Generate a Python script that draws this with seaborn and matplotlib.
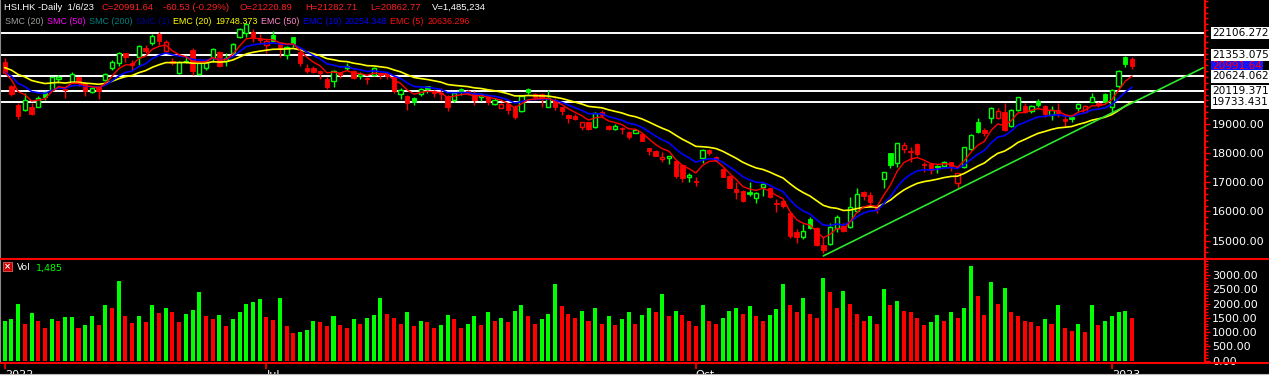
import numpy as np
import pandas as pd
import matplotlib
matplotlib.use("Agg")
import matplotlib.pyplot as plt
import seaborn as sns
from matplotlib.patches import Rectangle
from matplotlib.lines import Line2D
from matplotlib.ticker import MultipleLocator

sns.set_theme(style="dark")
plt.rcParams['font.family'] = ['DejaVu Sans']

# ---------------- data (HSI daily, May 2022 - Jan 6 2023) ----------------
opens = [21123, 20291, 19641, 19470, 19561, 19584, 20097, 20154, 20542, 20190,
         20439, 20587, 20382, 20097, 20291, 20496, 20918, 21066, 21408, 21089,
         21271, 21602, 21773, 22081, 21499, 21157, 20747, 21120, 21522, 20690,
         20918, 21237, 21442, 21157, 21431, 21955, 22092, 22149, 21900, 21693,
         22035, 21750, 21351, 21955, 21454, 20918, 20900, 20815, 20530, 20473,
         20747, 20895, 20804, 20633, 20576, 20667, 20724, 20724, 20587, 20017,
         19949, 19869, 20006, 20280, 20120, 20063, 19949, 19812, 20177, 20120,
         20017, 19903, 19949, 19664, 19550, 19664, 19584, 19436, 20188, 20017,
         20030, 19584, 19812, 19561, 19299, 19265, 18900, 19060, 18877, 19402,
         18923, 18832, 18860, 18718, 18695, 18649, 18159, 18068, 17783, 17840,
         17737, 17589, 17167, 17053, 17817, 18102, 17863, 17452, 17213, 16768,
         16700, 16677, 16460, 16848, 16791, 16301, 16358, 15936, 15309, 15115,
         15731, 15423, 14853, 14876, 15423, 15503, 15457, 16027, 16677, 16563,
         16187, 17122, 17988, 17646, 18148, 18060, 18307, 17623, 17623, 17520,
         17555, 17680, 16985, 17532, 18125, 19060, 18786, 19208, 19208, 19390,
         18934, 19470, 19618, 19447, 19778, 19607, 19299, 19470, 19174, 19219,
         19527, 19413, 19755, 19698, 20017, 19561, 20302, 21271, 21220.89]
highs = [21237, 20320, 19721, 20061, 19698, 19949, 20130, 20610, 20667, 20200,
         20758, 20610, 20439, 20291, 20300, 20730, 21180, 21440, 21430, 21180,
         21693, 21693, 22058, 22150, 21864, 21260, 21150, 21350, 21579, 21100,
         21150, 21580, 21490, 21408, 21750, 22260, 22434, 22229, 22069, 21887,
         22172, 21807, 21660, 21980, 21520, 21030, 20986, 20838, 20610, 20838,
         20780, 21089, 20838, 20780, 20600, 20950, 20780, 20750, 20633, 20211,
         19970, 19910, 20234, 20300, 20154, 20211, 19970, 20085, 20211, 20140,
         20120, 20063, 19970, 19869, 19698, 19698, 19641, 19983, 20211, 20040,
         20060, 20154, 19880, 19580, 19320, 19322, 19071, 19071, 19413, 19470,
         18957, 18980, 18900, 18752, 18820, 18672, 18182, 18102, 18045, 17890,
         17760, 17623, 17304, 17190, 18136, 18125, 17886, 17475, 17247, 17019,
         16734, 17019, 16677, 16962, 16848, 16415, 16392, 15993, 15389, 15571,
         15800, 15457, 15138, 15594, 15879, 15594, 16483, 16791, 16700, 16677,
         16221, 17361, 18011, 18353, 18364, 18216, 18353, 17703, 17669, 17589,
         17726, 17703, 17327, 18216, 18638, 19185, 18843, 19561, 19527, 19721,
         19493, 19926, 19698, 19641, 19835, 19641, 19607, 19698, 19265, 19288,
         19721, 19641, 20063, 19755, 20063, 20188, 20838, 21328, 21282.71]
lows = [20724, 19960, 19162, 19440, 19299, 19560, 19820, 20130, 20382, 19890,
        20382, 20291, 19960, 20063, 19846, 20470, 20838, 20986, 21123, 20838,
        20999, 21408, 21693, 21693, 21408, 21000, 20690, 21080, 20667, 20650,
        20838, 21123, 20950, 20986, 21408, 21920, 21955, 21807, 21750, 21431,
        21807, 21271, 21203, 21636, 20986, 20750, 20724, 20542, 20188, 20268,
        20553, 20838, 20519, 20519, 20348, 20633, 20519, 20519, 20040, 19846,
        19470, 19641, 19960, 20063, 19900, 19812, 19436, 19733, 19994, 19994,
        19641, 19778, 19641, 19641, 19527, 19333, 19162, 19413, 20017, 19812,
        19580, 19561, 19480, 19299, 19037, 19128, 18786, 18786, 18855, 19242,
        18786, 18786, 18650, 18478, 18672, 18410, 17931, 17897, 17703, 17623,
        17156, 17019, 17019, 16882, 17669, 17931, 17726, 17167, 16791, 16426,
        16335, 16540, 16301, 16540, 16472, 15993, 16130, 15081, 14933, 15047,
        15389, 14819, 14591, 14853, 15286, 15309, 15423, 15993, 16392, 16164,
        15936, 16814, 17498, 17532, 18011, 17703, 17897, 17361, 17270, 17304,
        17520, 17395, 16791, 17498, 18102, 18672, 18581, 19014, 19151, 18763,
        18900, 19436, 19356, 19379, 19584, 19242, 19111, 19242, 18900, 19071,
        19447, 19356, 19733, 19584, 19698, 19413, 20211, 20952, 20862.77]
closes = [20747, 20017, 19276, 19801, 19333, 19869, 19926, 20587, 20610, 20160,
          20701, 20382, 20120, 20211, 20131, 20691, 21112, 21408, 21271, 21020,
          21659, 21488, 22012, 21841, 21784, 21089, 21100, 21150, 20815, 21089,
          21123, 21545, 20986, 21260, 21727, 22229, 22400, 21978, 21860, 21830,
          21841, 21579, 21636, 21727, 21089, 20815, 20760, 20724, 20268, 20815,
          20667, 20986, 20553, 20701, 20519, 20895, 20667, 20633, 20120, 20143,
          19698, 19733, 20188, 20195, 20040, 20017, 19561, 20040, 20097, 20063,
          19812, 19994, 19755, 19812, 19675, 19470, 19242, 19949, 20097, 19903,
          19880, 19892, 19561, 19447, 19208, 19151, 19048, 18820, 19356, 19299,
          18820, 18923, 18830, 18535, 18786, 18421, 18079, 17908, 17863, 17880,
          17213, 17156, 17247, 17020, 18102, 17988, 17760, 17190, 16814, 16677,
          16369, 16586, 16631, 16939, 16506, 16255, 16198, 15161, 15140, 15343,
          15423, 14853, 14682, 15457, 15822, 15343, 16164, 16597, 16529, 16335,
          16073, 17338, 17589, 18330, 18262, 18020, 17954, 17578, 17418, 17540,
          17680, 17566, 17304, 18193, 18615, 18729, 18672, 19527, 19436, 18786,
          19470, 19903, 19413, 19607, 19641, 19333, 19470, 19356, 19083, 19151,
          19675, 19607, 19903, 19641, 19755, 20154, 20804, 21052.17, 20991.64]
first_prev_close = 20870
# volume in thousands
volumes = [1399, 1469, 1994, 1294, 1679, 1399, 1154, 1469, 1399, 1539,
           1545, 1154, 1259, 1574, 1259, 1959, 1854, 2798, 1574, 1329,
           1574, 1364, 1959, 1679, 1854, 1714, 1364, 1644, 1784, 2414,
           1574, 1469, 1609, 1224, 1469, 1714, 1994, 2064, 2169, 1539,
           1434, 2204, 1224, 979, 1003, 1084, 1399,
           1350, 1200, 1550, 1250, 1150, 1450, 1300, 1500, 1600, 2200,
           1650, 1500, 1300, 1700, 1200, 1400, 1350, 1150, 1250, 1600,
           1450, 1150, 1300, 1550, 1250, 1700, 1400, 1500, 1350, 1750,
           1950, 1550, 1300, 1450, 1650, 2700, 1900, 1650, 1500, 1750,
           1400, 1850, 1300, 1550, 1250, 1450, 1700, 1300, 1600, 1850,
           1700, 2350, 1550, 1750, 1600, 1400, 1200, 1950, 1400, 1300,
           1500, 1750, 1850, 1650, 1900, 1550, 1400, 1600, 1800, 2700,
           1950, 1700, 2200, 1650, 1500, 2900, 2400, 1850, 2450, 2000,
           1650, 1400, 1550, 1300, 2500, 1950, 2100, 1750, 1700, 1500,
           1250, 1350, 1600, 1400, 1700, 1500, 1850, 3300, 2250, 1600,
           2750, 2000, 2550, 1700, 1550, 1400, 1350, 1200, 1450, 1300,
           1950, 1150, 1050, 1300, 1000, 1950, 1250, 1400, 1550, 1700,
           1750, 1485.234]
levels = [22106.272, 21353.075, 20624.062, 20119.371, 19733.431]
ema_seeds = {5: 20750, 10: 20760, 20: 20920}
ema_labels = {20: 19748.373, 10: 20254.348, 5: 20636.296}
trend_x = [122, 178.6]
trend_y = [14480, 20916]
date_idx = [0, 39, 103, 165]
date_labels = ['2022', 'Jul', 'Oct', '2023']
chart_date = '1/6/23'
price_ticks = [15000, 16000, 17000, 18000, 19000]
vol_ticks = [0, 500, 1000, 1500, 2000, 2500, 3000]

# ---------------- derived ----------------
o = np.array(opens, float); h = np.array(highs, float)
l = np.array(lows, float); c = np.array(closes, float)
v = np.array(volumes, float)
n = len(c)
x = np.arange(n)
prev = np.concatenate([[first_prev_close], c[:-1]])
GREEN, RED = '#00ff00', '#ff0000'
cols = np.where(c >= prev, GREEN, RED)
vprev = np.concatenate([[0], v[:-1]])
vcols = np.where(v >= vprev, GREEN, RED)

def ema(vals, span, seed):
    a = 2.0 / (span + 1)
    out = [seed]
    for val in vals[1:]:
        out.append(a * val + (1 - a) * out[-1])
    return np.array(out)

df = pd.DataFrame({'x': x,
                   'ema5': ema(c, 5, ema_seeds[5]),
                   'ema10': ema(c, 10, ema_seeds[10]),
                   'ema20': ema(c, 20, ema_seeds[20])})

# ---------------- figure ----------------
W, H = 1269, 387
fig = plt.figure(figsize=(W / 100, H / 100), dpi=100, facecolor='black')
axr = 1204.5 / W
ax = fig.add_axes([0, (H - 258.3) / H, axr, 258.3 / H])
axv = fig.add_axes([0, (H - 363.3) / H, axr, (363.3 - 259.3) / H])
for a in (ax, axv):
    a.set_facecolor('black')
    a.grid(False)
    a.set_xlim(-0.70, 178.8)
    for s in ('top', 'bottom'):
        a.spines[s].set_visible(False)
    a.spines['left'].set_color('#8a8a8a')
    a.spines['left'].set_linewidth(1.5)
    a.spines['right'].set_color(RED)
    a.spines['right'].set_linewidth(1.5)

ax.set_ylim(14398, 23232)
axv.set_ylim(-91, 3549)

# level lines
for lv in levels:
    ax.axhline(lv, color='white', lw=1.4, zorder=1)

# candles
ax.vlines(x, l, h, colors=cols, linewidth=1.0, zorder=2)
bot = np.minimum(o, c)
hgt = np.maximum(np.abs(c - o), 12)
filled = c < o
ax.bar(x[filled], hgt[filled], bottom=bot[filled], width=0.64,
       color=cols[filled], edgecolor=cols[filled], linewidth=0.6, zorder=3)
hol = ~filled
ax.bar(x[hol], hgt[hol], bottom=bot[hol], width=0.64,
       facecolor='black', edgecolor=cols[hol], linewidth=1.0, zorder=3)

# moving averages
sns.lineplot(data=df, x='x', y='ema20', ax=ax, color='#ffff00', linewidth=1.2, zorder=4, legend=False)
sns.lineplot(data=df, x='x', y='ema10', ax=ax, color='#0000ff', linewidth=1.2, zorder=4, legend=False)
sns.lineplot(data=df, x='x', y='ema5', ax=ax, color='#ff0000', linewidth=1.0, zorder=4, legend=False)
# trend line
sns.lineplot(x=trend_x, y=trend_y, ax=ax, color='#2ee62e', linewidth=1.2, zorder=4, legend=False)
ax.set_xlim(-0.70, 178.8)
ax.set_xlabel(''); ax.set_ylabel('')

# right price axis
ax.yaxis.tick_right()
ax.set_yticks(price_ticks)
ax.set_yticklabels([f"{t:.2f}" for t in price_ticks])
ax.yaxis.set_minor_locator(MultipleLocator(200))
ax.tick_params(axis='y', which='major', colors=RED, labelcolor='white', length=3.5,
               width=1, direction='out', pad=2, labelsize=8, left=False, right=True)
ax.tick_params(axis='y', which='minor', colors=RED, length=2, width=1, direction='out',
               left=False, right=True)
ax.tick_params(axis='x', bottom=False, labelbottom=False)

# level labels
for lv in levels:
    ax.annotate(f"{lv:.3f}", xy=(1.0062, lv), xycoords=('axes fraction', 'data'),
                fontsize=7.6, color='black', va='center', ha='left',
                bbox=dict(boxstyle='square,pad=0.12', fc='white', ec='none'),
                annotation_clip=False, zorder=7)
ax.annotate(f"{c[-1]:.2f}", xy=(1.0062, c[-1]), xycoords=('axes fraction', 'data'),
            fontsize=7.6, color=RED, va='center', ha='left',
            bbox=dict(boxstyle='square,pad=0.12', fc='#1414ff', ec='none'),
            annotation_clip=False, zorder=6)

# volume
axv.bar(x, v, width=0.6, color=vcols, linewidth=0, zorder=3)
axv.yaxis.tick_right()
axv.set_yticks(vol_ticks)
axv.set_yticklabels([f"{t:.2f}" for t in vol_ticks])
axv.yaxis.set_minor_locator(MultipleLocator(100))
axv.tick_params(axis='y', which='major', colors=RED, labelcolor='white', length=3.5,
                width=1, direction='out', pad=2, labelsize=8, left=False, right=True)
axv.tick_params(axis='y', which='minor', colors=RED, length=2, width=1, direction='out',
                left=False, right=True)
axv.set_xticks(date_idx)
axv.set_xticklabels(date_labels)
axv.tick_params(axis='x', colors=RED, labelcolor='white', length=4, width=1.2,
                pad=1, labelsize=8, bottom=True, direction='out')
for lab in axv.get_xticklabels():
    lab.set_ha('left')

# separators
for yy in (258.8, 363.3):
    fig.add_artist(Line2D([0, 1], [1 - yy / H] * 2, transform=fig.transFigure,
                          color=RED, lw=1.5, zorder=8))
# bottom strip
fig.add_artist(Rectangle((0, 0), 1, 13.5 / H, transform=fig.transFigure,
                         facecolor='white', edgecolor='none', zorder=10))
fig.add_artist(Line2D([0, 1], [13.5 / H] * 2, transform=fig.transFigure,
                      color='#b8b8b8', lw=0.8, zorder=11))

# volume label
fig.add_artist(Rectangle((3 / W, 1 - 271 / H), 9 / W, 9 / H, transform=fig.transFigure,
                         facecolor='#c80000', edgecolor='#ff7070', lw=0.5, zorder=9))
fig.text(7.5 / W, 1 - 266.5 / H, '×', color='white', fontsize=6, ha='center',
         va='center', zorder=10, fontweight='bold')
fig.text(17 / W, 1 - 268 / H, 'Vol', color='white', fontsize=6.6, va='center', zorder=9)
fig.text(36 / W, 1 - 268 / H, f"{int(v[-1]):,}", color=GREEN, fontsize=6.8,
         va='center', zorder=9)

# header
chg = c[-1] - c[-2]
pct = chg / c[-2] * 100
y1 = 1 - 7 / H
y2 = 1 - 21 / H
hdr1 = [(4, f"HSI.HK -Daily  {chart_date}", 'white'),
        (102, f"C={c[-1]:.2f}", '#ff2020'),
        (163, f"{chg:.2f} ({pct:.2f}%)", '#ff2020'),
        (240, f"O={o[-1]:.2f}", '#ff2020'),
        (305, f"H={h[-1]:.2f}", '#ff2020'),
        (370, f"L={l[-1]:.2f}", '#ff2020'),
        (432, f"V={v[-1] * 1000:,.0f}", 'white')]
hdr2 = [("SMC (20)", '#a0a0a0'),
        ("SMC (50)", '#ff00ff'),
        ("SMC (200)", '#008080'),
        ("SMC (1)", '#000090'),
        ("EMC (20)", '#ffff00'),
        (f"{ema_labels[20]:.3f}", '#ffff00'),
        ("EMC (50)", '#ff88c8'),
        ("EMC (10)", '#0000ff'),
        (f"{ema_labels[10]:.3f}", '#0000ff'),
        ("EMC (5)", '#ff1010'),
        (f"{ema_labels[5]:.3f}", '#ff1010')]
hfont = ['Liberation Sans', 'DejaVu Sans']
for xx, t, col in hdr1:
    fig.text(xx / W, y1, t, color=col, fontsize=6.8, va='center', ha='left',
             zorder=9, family=hfont)
renderer = fig.canvas.get_renderer()
xpos = 5.0
for t, col in hdr2:
    tx = fig.text(xpos / W, y2, t, color=col, fontsize=6.4, va='center', ha='left',
                  zorder=9, family=hfont)
    bb = tx.get_window_extent(renderer)
    xpos = bb.x1 + 3.5

fig.savefig('out.png', dpi=100, facecolor='black')
